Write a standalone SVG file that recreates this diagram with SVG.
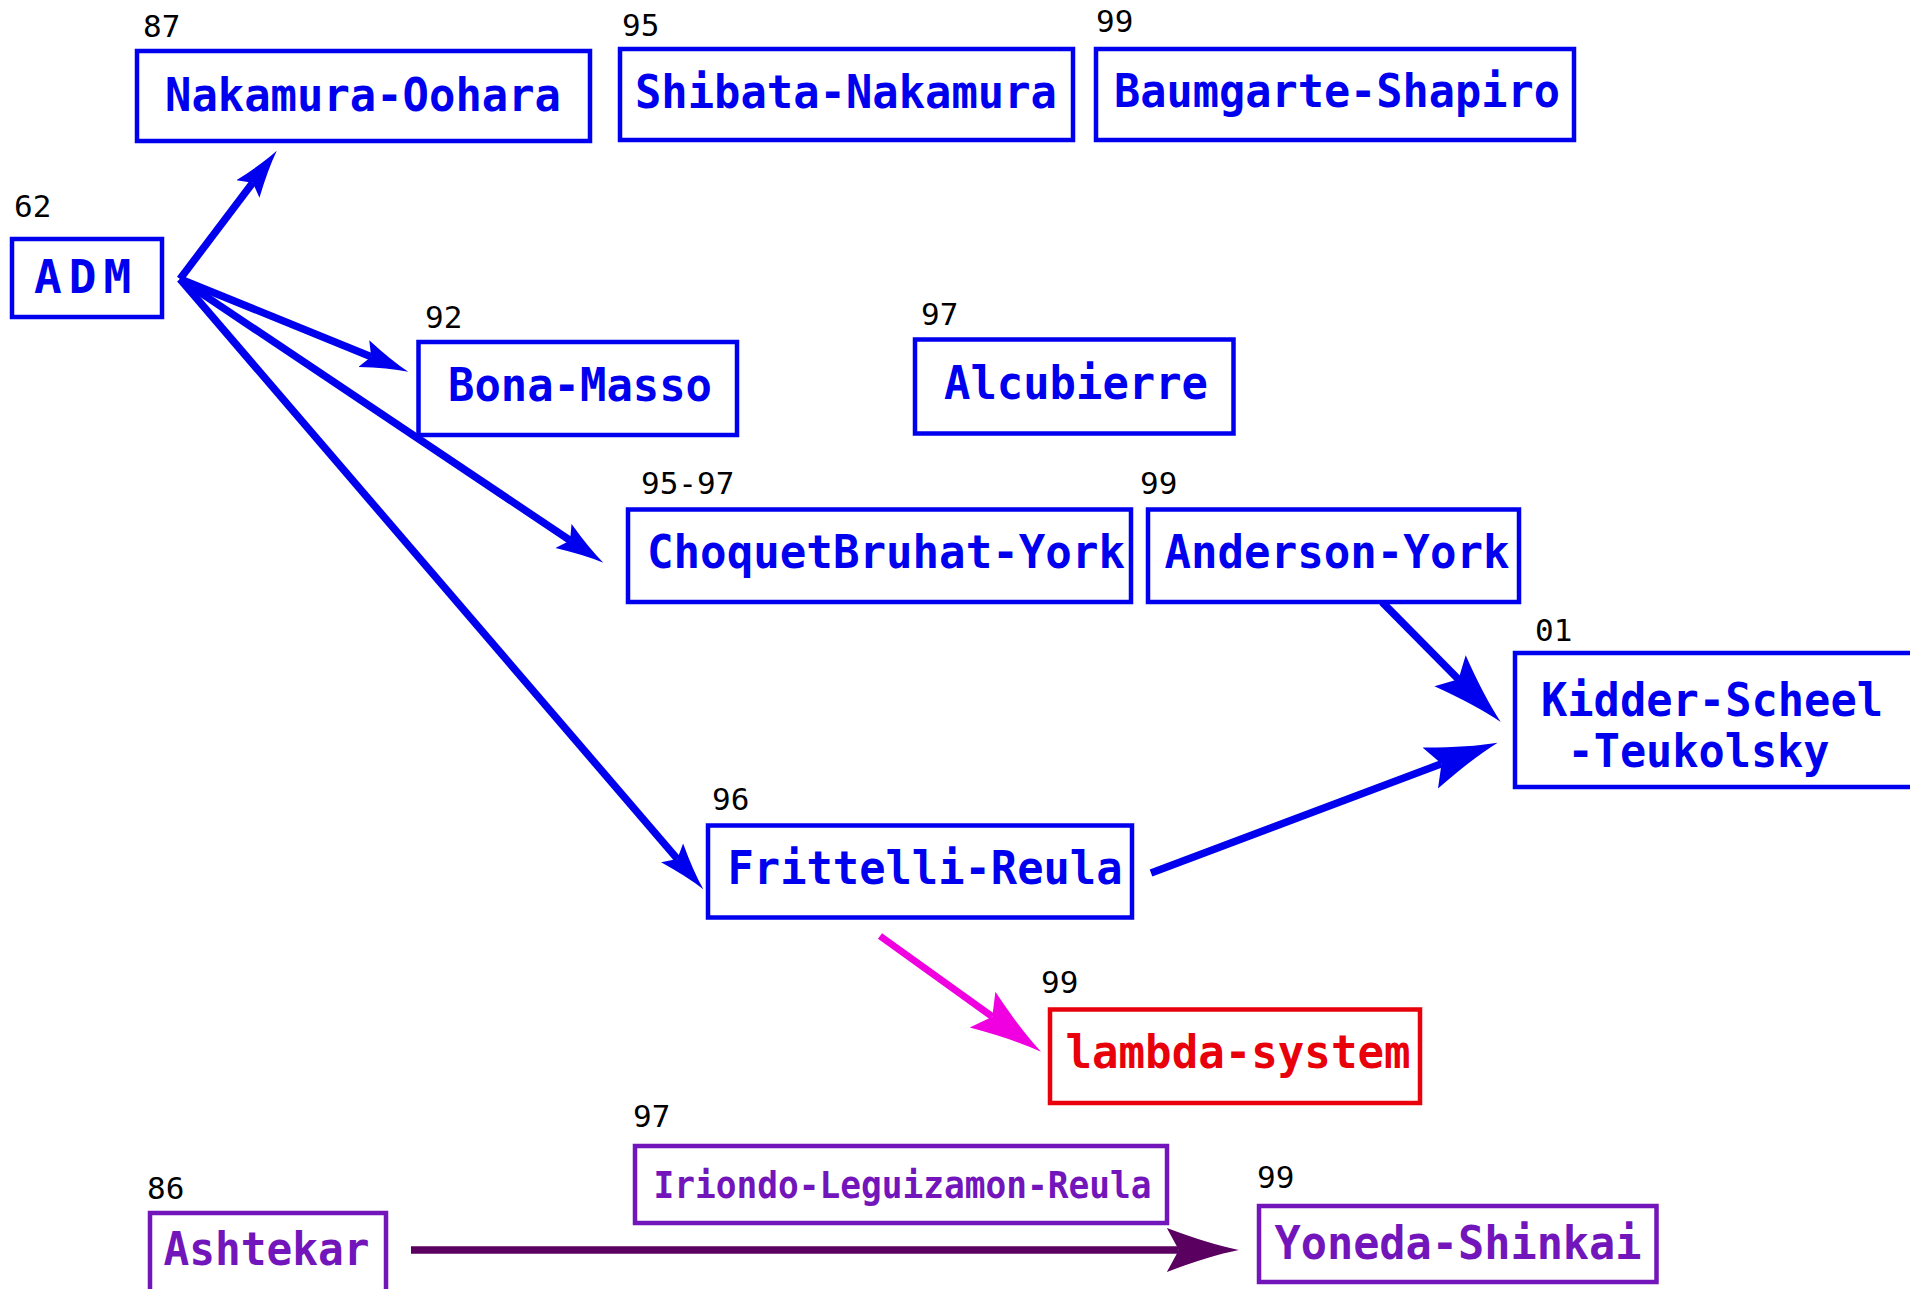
<svg xmlns="http://www.w3.org/2000/svg" width="1910" height="1289" viewBox="0 0 1910 1289">
<style>
.box{fill:#fff;stroke-width:4.5}
.b{stroke:#0000ee}
.r{stroke:#e8000b}
.p{stroke:#7216bb}
.t{font-family:"DejaVu Sans Mono","Liberation Mono",monospace;font-weight:bold;font-size:47px}
.ts{font-size:38px}
.tb{fill:#0000ee}
.tr{fill:#e8000b}
.tp{fill:#7216bb}
.n{font-family:"DejaVu Sans Mono","Liberation Mono",monospace;font-size:31px;fill:#000}
.c{fill:none;stroke-linecap:butt}
</style>
<defs>
<marker id="as" markerUnits="userSpaceOnUse" markerWidth="50" markerHeight="30" viewBox="0 0 50 30" refX="8" refY="15" orient="auto">
<path d="M48,15 Q28,11 0,0.5 L8,15 L0,29.5 Q28,19 48,15 Z" fill="#0000ee"/>
</marker>
<marker id="al" markerUnits="userSpaceOnUse" markerWidth="74" markerHeight="46" viewBox="0 0 74 46" refX="12" refY="23" orient="auto">
<path d="M72,23 Q42,17 0,1 L12,23 L0,45 Q42,29 72,23 Z" fill="#0000ee"/>
</marker>
<marker id="am" markerUnits="userSpaceOnUse" markerWidth="74" markerHeight="46" viewBox="0 0 74 46" refX="12" refY="23" orient="auto">
<path d="M72,23 Q42,17 0,1 L12,23 L0,45 Q42,29 72,23 Z" fill="#f000e0"/>
</marker>
<marker id="ad" markerUnits="userSpaceOnUse" markerWidth="74" markerHeight="46" viewBox="0 0 74 46" refX="12" refY="23" orient="auto">
<path d="M72,23 Q42,17 0,1 L12,23 L0,45 Q42,29 72,23 Z" fill="#5a0060"/>
</marker>
</defs>
<rect width="1910" height="1289" fill="#fff"/>

<g id="connectors">
<line class="c" x1="180" y1="279" x2="252.7" y2="182.7" stroke="#0000ee" stroke-width="7.5" marker-end="url(#as)"/>
<line class="c" x1="180" y1="279" x2="371.2" y2="356.7" stroke="#0000ee" stroke-width="7.5" marker-end="url(#as)"/>
<line class="c" x1="180" y1="279" x2="570.1" y2="540.4" stroke="#0000ee" stroke-width="7.5" marker-end="url(#as)"/>
<line class="c" x1="180" y1="279" x2="677.3" y2="858.9" stroke="#0000ee" stroke-width="7.5" marker-end="url(#as)"/>
<line class="c" x1="1382" y1="602" x2="1458.5" y2="679.3" stroke="#0000ee" stroke-width="7.5" marker-end="url(#al)"/>
<line class="c" x1="1151" y1="873" x2="1441.5" y2="763.8" stroke="#0000ee" stroke-width="7.5" marker-end="url(#al)"/>
<line class="c" x1="880" y1="936" x2="992.3" y2="1016.7" stroke="#f000e0" stroke-width="7" marker-end="url(#am)"/>
<line class="c" x1="411" y1="1250" x2="1178.8" y2="1250" stroke="#5a0060" stroke-width="7.5" marker-end="url(#ad)"/>
</g>

<g id="node-adm">
<rect class="box b" x="12" y="239" width="150" height="78"/>
<text class="t tb" x="34" y="293" style="font-size:46px" letter-spacing="7">ADM</text>
<text class="n" x="14" y="217">62</text>
</g>
<g id="node-nakamura-oohara">
<rect class="box b" x="137" y="51" width="453" height="90"/>
<text class="t tb" x="363" y="111" text-anchor="middle" textLength="396" lengthAdjust="spacingAndGlyphs">Nakamura-Oohara</text>
<text class="n" x="143" y="37">87</text>
</g>
<g id="node-shibata-nakamura">
<rect class="box b" x="620" y="49" width="453" height="91"/>
<text class="t tb" x="846" y="108" text-anchor="middle" textLength="422" lengthAdjust="spacingAndGlyphs">Shibata-Nakamura</text>
<text class="n" x="622" y="36">95</text>
</g>
<g id="node-baumgarte-shapiro">
<rect class="box b" x="1096" y="49" width="478" height="91"/>
<text class="t tb" x="1337" y="107" text-anchor="middle" textLength="446" lengthAdjust="spacingAndGlyphs">Baumgarte-Shapiro</text>
<text class="n" x="1096" y="32">99</text>
</g>
<g id="node-bona-masso">
<rect class="box b" x="418.5" y="342" width="318.5" height="93"/>
<text class="t tb" x="580" y="401" text-anchor="middle" textLength="264" lengthAdjust="spacingAndGlyphs">Bona-Masso</text>
<text class="n" x="425" y="328">92</text>
</g>
<g id="node-alcubierre">
<rect class="box b" x="915" y="339.5" width="318.5" height="94"/>
<text class="t tb" x="1076" y="399" text-anchor="middle" textLength="264" lengthAdjust="spacingAndGlyphs">Alcubierre</text>
<text class="n" x="921" y="325">97</text>
</g>
<g id="node-choquetbruhat-york">
<rect class="box b" x="628" y="509.5" width="503" height="92.5"/>
<text class="t tb" x="886" y="568" text-anchor="middle" textLength="478" lengthAdjust="spacingAndGlyphs">ChoquetBruhat-York</text>
<text class="n" x="641" y="494">95-97</text>
</g>
<g id="node-anderson-york">
<rect class="box b" x="1148" y="509.5" width="371" height="92.5"/>
<text class="t tb" x="1337" y="568" text-anchor="middle" textLength="345" lengthAdjust="spacingAndGlyphs">Anderson-York</text>
<text class="n" x="1140" y="494">99</text>
</g>
<g id="node-kidder-scheel-teukolsky">
<rect class="box b" x="1515" y="653" width="420" height="134"/>
<text class="t tb" x="1541" y="716" textLength="342" lengthAdjust="spacingAndGlyphs">Kidder-Scheel</text>
<text class="t tb" x="1567.5" y="767" textLength="262" lengthAdjust="spacingAndGlyphs">-Teukolsky</text>
<text class="n" x="1535" y="641">01</text>
</g>
<g id="node-frittelli-reula">
<rect class="box b" x="708" y="825.5" width="424" height="92"/>
<text class="t tb" x="925" y="884" text-anchor="middle" textLength="395" lengthAdjust="spacingAndGlyphs">Frittelli-Reula</text>
<text class="n" x="712" y="810">96</text>
</g>
<g id="node-lambda-system">
<rect class="box r" x="1050" y="1009.5" width="370" height="93.5"/>
<text class="t tr" x="1238" y="1068" text-anchor="middle" textLength="345" lengthAdjust="spacingAndGlyphs">lambda-system</text>
<text class="n" x="1041" y="993">99</text>
</g>
<g id="node-iriondo-leguizamon-reula">
<rect class="box p" x="635" y="1146" width="532" height="77"/>
<text class="t ts tp" x="902.5" y="1198" text-anchor="middle" textLength="498" lengthAdjust="spacingAndGlyphs">Iriondo-Leguizamon-Reula</text>
<text class="n" x="633" y="1127">97</text>
</g>
<g id="node-ashtekar">
<rect class="box p" x="150" y="1213" width="236" height="90"/>
<text class="t tp" x="266.5" y="1265" text-anchor="middle" textLength="206" lengthAdjust="spacingAndGlyphs">Ashtekar</text>
<text class="n" x="147" y="1199">86</text>
</g>
<g id="node-yoneda-shinkai">
<rect class="box p" x="1259" y="1206" width="397.5" height="76"/>
<text class="t tp" x="1458" y="1259" text-anchor="middle" textLength="367" lengthAdjust="spacingAndGlyphs">Yoneda-Shinkai</text>
<text class="n" x="1257" y="1188">99</text>
</g>
</svg>
